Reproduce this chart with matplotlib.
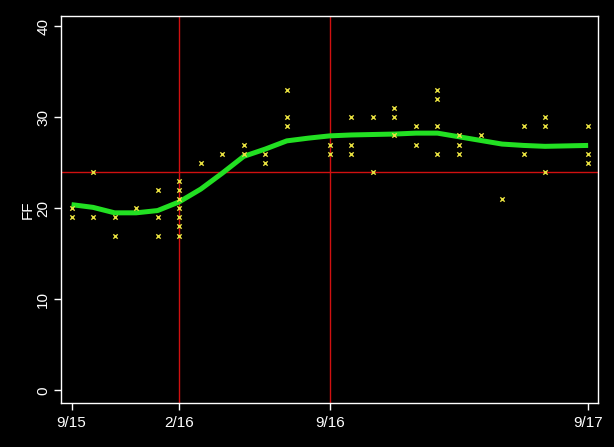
import matplotlib
matplotlib.use('Agg')
import matplotlib.pyplot as plt

plt.rcParams['font.family'] = ['Liberation Sans', 'DejaVu Sans']

# months since 9/15
tick_pos = [0, 5, 12, 24]
tick_labels = ['9/15', '2/16', '9/16', '9/17']

pt_month = [0, 0, 1, 1, 2, 2, 3, 4, 4, 4,
            5, 5, 5, 5, 5, 5, 5, 6, 7, 8, 8,
            9, 9, 10, 10, 10, 12, 12, 13, 13, 13,
            14, 14, 15, 15, 15, 16, 16, 17, 17, 17, 17,
            18, 18, 18, 19, 20, 21, 21, 22, 22, 22, 24, 24, 24]
pt_ff = [20, 19, 24, 19, 19, 17, 20, 22, 19, 17,
         23, 22, 21, 20, 19, 18, 17, 25, 26, 27, 26,
         26, 25, 33, 30, 29, 27, 26, 30, 27, 26,
         30, 24, 31, 30, 28, 29, 27, 33, 32, 29, 26,
         28, 27, 26, 28, 21, 29, 26, 30, 29, 24, 29, 26, 25]

smooth_month = list(range(0, 25))
smooth_ff = [20.4, 20.1, 19.5, 19.5, 19.75, 20.7, 22.1, 23.85, 25.7, 26.5,
             27.4, 27.7, 27.95, 28.05, 28.1, 28.15, 28.25, 28.25, 27.85, 27.45,
             27.05, 26.9, 26.8, 26.85, 26.9]

ref_ff = 24.0
ref_months = [5, 12]

fig = plt.figure(figsize=(6.14, 4.47), dpi=100, facecolor='black')
ax = fig.add_axes([0.099, 0.098, 0.875, 0.866], facecolor='black')

ax.axhline(ref_ff, color='#d01010', lw=1.0, zorder=1)
for m in ref_months:
    ax.axvline(m, color='#d01010', lw=1.0, zorder=1)

ax.plot(smooth_month, smooth_ff, color='#22e022', lw=3.6, zorder=2,
        solid_capstyle='butt')
ax.scatter(pt_month, pt_ff, marker='x', s=10, color='#e8e040', lw=1.0, zorder=3)

ax.set_xlim(-0.5, 24.46)
ax.set_ylim(-1.4, 41.1)
ax.set_xticks(tick_pos)
ax.set_xticklabels(tick_labels)
ax.set_yticks([0, 10, 20, 30, 40])
ax.set_yticklabels(['0', '10', '20', '30', '40'], rotation=90, va='center')
ax.set_ylabel('FF', color='white', fontsize=11, labelpad=1)

for s in ax.spines.values():
    s.set_color('white')
    s.set_linewidth(1.0)
ax.tick_params(colors='white', labelsize=11, length=5, width=1, pad=4)
ax.tick_params(axis='y', pad=2.5)

fig.savefig('out.png', dpi=100, facecolor='black')
